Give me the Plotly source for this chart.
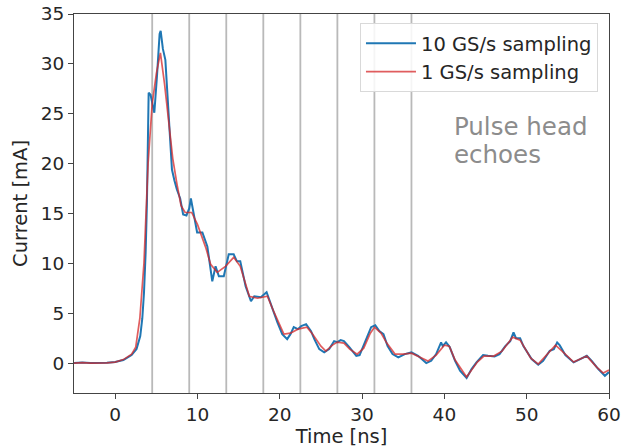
import plotly.graph_objects as go

# 10 GS/s sampling (blue)
t_fast = [-5, -4, -3, -2, -1, 0, 1, 2, 2.6, 3.05, 3.3, 3.5, 3.7, 3.86, 3.95, 4.07, 4.3, 4.76,
          5.1, 5.4, 5.53, 5.8, 6.1, 6.5, 6.9, 7.2, 7.5, 7.9, 8.26, 8.66, 9.0, 9.2, 9.4, 9.96,
          10.6, 11.2, 11.8, 12.2, 12.6, 13.2, 13.8, 14.4, 14.8, 15.2, 15.85, 16.5, 16.9, 17.7,
          18.4, 18.9, 19.7, 20.3, 20.9, 21.3, 21.7, 22.2, 22.6, 23.2, 23.8, 24.2, 24.8, 25.4,
          26.0, 26.6, 27.0, 27.4, 27.8, 28.45, 29.3, 29.7, 30.1, 30.7, 31.1, 31.6, 32.1, 32.6,
          33.1, 33.7, 34.4, 35.2, 36.0, 36.8, 37.8, 38.4, 39.0, 39.6, 39.8, 40.2, 40.65, 41.3,
          41.9, 42.7, 43.3, 43.9, 44.7, 45.3, 46.1, 46.7, 47.4, 48.0, 48.4, 48.7, 49.2, 49.6,
          50.6, 51.4, 52.0, 52.8, 53.3, 53.7, 54.0, 54.7, 55.7, 56.5, 57.3, 57.9, 58.7, 59.5,
          59.8, 60]
i_fast = [0.0, 0.05, 0.02, 0.0, 0.03, 0.1, 0.3, 0.8, 1.4, 2.7, 4.5, 7, 11, 16, 22, 27.1, 26.9, 25.1,
          29, 33, 33.3, 31.5, 30.4, 25, 19.4, 18.3, 17.4, 16.5, 14.9, 14.8, 15.5, 16.5, 15.6, 13.1,
          13.1, 11.7, 8.2, 9.7, 8.7, 8.7, 10.9, 10.9, 10.2, 10.2, 7.7, 6.2, 6.7, 6.6,
          7.1, 5.9, 4.1, 2.9, 2.4, 2.9, 3.6, 3.4, 3.7, 3.9, 3.2, 2.4, 1.4, 1.07,
          1.4, 2.2, 2.1, 2.3, 2.2, 1.6, 0.73, 0.8, 1.6, 2.7, 3.6, 3.8, 3.2, 2.9,
          1.7, 0.9, 0.57, 0.9, 1.07, 0.73, 0.0, 0.23, 0.9, 2.07, 1.7, 2.07, 1.6, 0.23,
          -0.77, -1.5, -0.6, 0.07, 0.8, 0.73, 0.67, 0.9, 1.7, 2.2, 3.07, 2.5, 2.5, 1.7,
          0.4, -0.17, 0.23, 1.23, 1.4, 2.07, 1.8, 0.8, 0.07, 0.4, 0.73, 0.23, -0.6, -1.27,
          -1.0, -0.9]

# 1 GS/s sampling (red)
t_slow = [-5, -4, -3, -2, -1, 0, 1, 2, 2.5, 3, 3.5, 4, 4.5, 5, 5.5, 6, 6.5, 7, 7.5, 8, 8.5, 9.3,
          10, 11, 11.6, 12.4, 13.4, 14.4, 15.2, 16.3, 17.3, 18.5, 19.3, 20.5, 21.3, 22.2, 23.3,
          24, 25, 25.6, 26.4, 27, 27.8, 28.5, 29.4, 30.2, 31, 31.5, 32.3, 33, 34, 35, 36, 37,
          38, 39, 40, 40.6, 41.3, 42.7, 44, 44.8, 46, 47, 48.3, 49.2, 50.5, 51.4, 52.5, 53.5,
          54.3, 55.7, 57.3, 58.5, 59.3, 60]
i_slow = [0.0, 0.05, 0.0, 0.0, 0.02, 0.1, 0.35, 0.9, 1.6, 4.5, 10, 20, 26, 29, 31.1, 28, 24, 20.5,
          18, 15.8, 15.1, 15.1, 13.9, 11.6, 9.9, 9.1, 9.7, 10.6, 9.7, 6.7, 6.5, 6.7, 5.1, 2.9,
          3.0, 3.4, 3.6, 2.9, 1.7, 1.2, 1.8, 2.1, 2.0, 1.4, 0.9, 1.5, 3.0, 3.6, 3.0, 2.0, 0.9,
          0.9, 1.0, 0.6, 0.2, 0.8, 1.8, 1.7, 0.3, -1.4, 0.1, 0.7, 0.7, 1.2, 2.6, 2.3, 0.5, -0.1,
          0.9, 1.8, 1.2, 0.1, 0.7, -0.4, -1.0, -0.7]

echo_times = [4.5, 9.0, 13.5, 18.0, 22.5, 27.0, 31.5, 36.0]
x_ticks = [0, 10, 20, 30, 40, 50, 60]
y_ticks = [0, 5, 10, 15, 20, 25, 30, 35]
note_lines = ["Pulse head", "echoes"]

fig = go.Figure()
fig.add_trace(go.Scatter(x=t_fast, y=i_fast, mode="lines", name="10 GS/s sampling",
                         line=dict(color="#1f77b4", width=2)))
fig.add_trace(go.Scatter(x=t_slow, y=i_slow, mode="lines", name="1 GS/s sampling",
                         line=dict(color="rgba(214,39,40,0.75)", width=1.7)))

for te in echo_times:
    fig.add_shape(type="line", x0=te, x1=te, y0=0, y1=1, xref="x", yref="paper",
                  line=dict(color="rgba(128,128,128,0.55)", width=1.8), layer="below")

for txt, yv in zip(note_lines, [23.7, 20.9]):
    fig.add_annotation(x=40.9, y=yv, xref="x", yref="y", text=txt,
                       showarrow=False, xanchor="left", yanchor="middle", align="left",
                       font=dict(size=24.5, color="#8c8c8c", family="DejaVu Sans"))

axis_common = dict(showline=True, linecolor="#444", linewidth=1, mirror=True,
                   ticks="outside", ticklen=5, tickcolor="#444", showgrid=False,
                   zeroline=False, automargin=False,
                   tickfont=dict(size=18.5, color="#262626"),
                   title_font=dict(size=19.5, color="#262626"))

fig.update_layout(
    width=624, height=448,
    margin=dict(l=74, r=15, t=14, b=55),
    plot_bgcolor="white", paper_bgcolor="white",
    font=dict(family="DejaVu Sans", color="#262626"),
    xaxis=dict(range=[-5, 60], tickvals=x_ticks,
               title=dict(text="Time [ns]", standoff=5), **axis_common),
    yaxis=dict(range=[-3, 35], tickvals=y_ticks,
               title=dict(text="Current [mA]", standoff=7), **axis_common),
    legend=dict(x=0.9794, y=0.976, xanchor="right", yanchor="top",
                bgcolor="rgba(255,255,255,0.85)", bordercolor="#d9d9d9", borderwidth=1,
                font=dict(size=19.5, color="#262626"), itemwidth=50),
    showlegend=True,
)

fig.write_html("out.html")
